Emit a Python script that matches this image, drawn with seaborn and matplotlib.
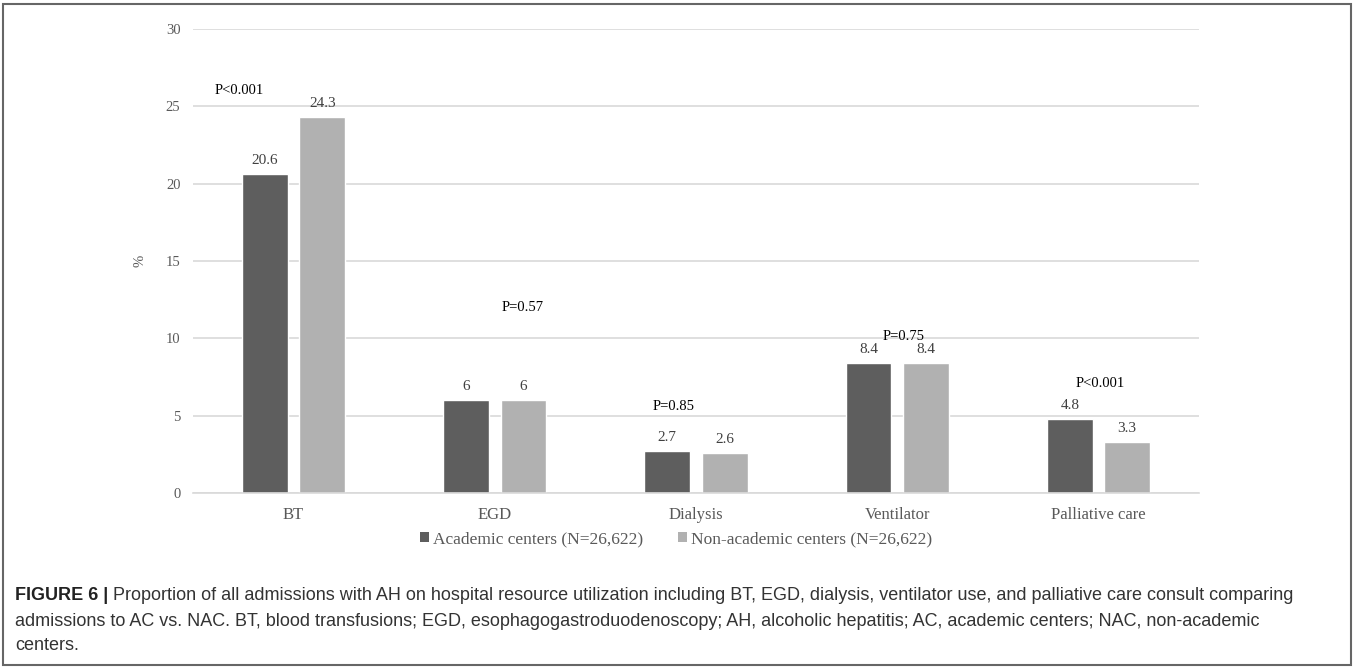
import numpy as np
import pandas as pd
import matplotlib
matplotlib.use('Agg')
import matplotlib.pyplot as plt
from matplotlib.patches import Patch, Rectangle
import seaborn as sns

categories = ['BT', 'EGD', 'Dialysis', 'Ventilator', 'Palliative care']
groups = ['Academic centers (N=26,622)', 'Non-academic centers (N=26,622)']
academic = [20.6, 6, 2.7, 8.4, 4.8]
non_academic = [24.3, 6, 2.6, 8.4, 3.3]
p_values = ['P<0.001', 'P=0.57', 'P=0.85', 'P=0.75', 'P<0.001']
yticks = [0, 5, 10, 15, 20, 25, 30]

caption_bold = 'FIGURE 6 |'
caption_rest = (' Proportion of all admissions with AH on hospital resource utilization including BT, EGD, dialysis, ventilator use, and palliative care consult comparing',
                'admissions to AC vs. NAC. BT, blood transfusions; EGD, esophagogastroduodenoscopy; AH, alcoholic hepatitis; AC, academic centers; NAC, non-academic',
                'centers.')

df = pd.DataFrame({
    'category': categories * 2,
    'group': [groups[0]] * len(categories) + [groups[1]] * len(categories),
    'value': academic + non_academic,
})

sns.set_style('white')
serif = ['Liberation Serif', 'DejaVu Serif']
sans = ['Liberation Sans Narrow', 'Liberation Sans', 'DejaVu Sans']
grey_txt = '#595959'
palette = {groups[0]: '#5e5e5e', groups[1]: '#b1b1b1'}

fig = plt.figure(figsize=(13.57, 6.67), dpi=100)
ax = fig.add_axes([0.1422, 0.2609, 0.7414, 0.6956])

sns.barplot(data=df, x='category', y='value', hue='group', palette=palette,
            width=0.57, gap=0.2, legend=False, ax=ax, saturation=1)

ax.set_ylim(0, 30)
ax.set_xlim(-0.5, len(categories) - 0.5)
ax.set_yticks(yticks)
ax.set_yticklabels([str(t) for t in yticks], fontfamily=serif, fontsize=10.5, color=grey_txt)
ax.set_xticklabels(categories, fontfamily=serif, fontsize=12, color=grey_txt)
ax.tick_params(axis='x', length=0, pad=10)
ax.tick_params(axis='y', length=0, pad=9)
ax.set_xlabel('')
ax.set_ylabel('%', fontfamily=serif, fontsize=10.5, color=grey_txt, rotation=90, labelpad=14)
ax.yaxis.grid(True, color='#d9d9d9', linewidth=1.2)
ax.set_axisbelow(True)
for s in ['top', 'right', 'left']:
    ax.spines[s].set_visible(False)
ax.spines['bottom'].set_color('#d9d9d9')
ax.spines['bottom'].set_linewidth(1.2)

for cont in ax.containers:
    ax.bar_label(cont, fmt='{:g}', padding=5, fontfamily=serif, fontsize=11, color='#404040')

# p-value annotations (x offset in category units, y in data units)
p_offset = [-0.27, 0.14, -0.11, 0.03, 0.01]
p_height = [26.05, 12.0, 5.56, 10.1, 7.05]
for i, (p, dx, h) in enumerate(zip(p_values, p_offset, p_height)):
    ax.text(i + dx, h, p, ha='center', va='center', fontfamily=serif, fontsize=10.5, color='black')

handles = [Patch(facecolor=palette[g], edgecolor='none') for g in groups]
leg = fig.legend(handles, groups, loc='center', bbox_to_anchor=(0.498, 0.192), ncol=2,
                 frameon=False, handlelength=0.55, handleheight=0.55, handletextpad=0.2,
                 columnspacing=2.0, prop={'family': serif, 'size': 12.5})
for t in leg.get_texts():
    t.set_color(grey_txt)

# caption
y0 = 1 - 596 / 667
t = fig.text(0.011, y0, caption_bold, fontfamily=sans, fontweight='bold', fontsize=13, va='center', color='#222222')
fig.canvas.draw()
bb = t.get_window_extent()
x_after = bb.x1 / fig.bbox.width
fig.text(x_after, y0, caption_rest[0], fontfamily=sans, fontsize=13, va='center', color='#333333')
fig.text(0.011, 1 - 621 / 667, caption_rest[1], fontfamily=sans, fontsize=13, va='center', color='#333333')
fig.text(0.011, 1 - 646 / 667, caption_rest[2], fontfamily=sans, fontsize=13, va='center', color='#333333')

fig.patches.append(Rectangle((3 / 1357, 2 / 667), 1348 / 1357, 661 / 667, transform=fig.transFigure,
                             fill=False, edgecolor='#666666', linewidth=1.5))

fig.savefig('out.png', dpi=100)
